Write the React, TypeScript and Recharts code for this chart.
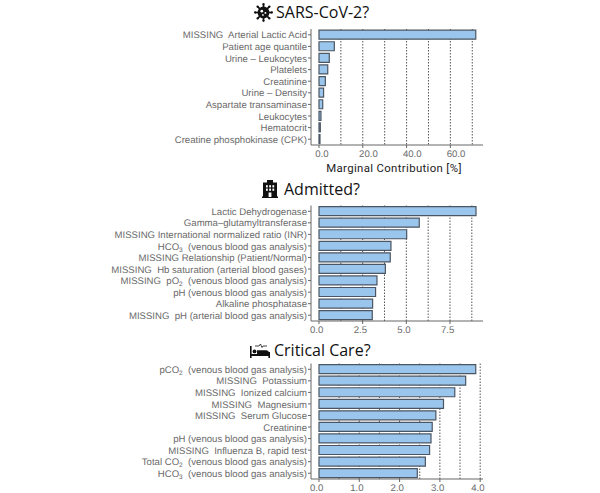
import { BarChart, Bar, XAxis, YAxis, CartesianGrid } from "recharts";

const covidLabels = [
  "MISSING  Arterial Lactic Acid",
  "Patient age quantile",
  "Urine – Leukocytes",
  "Platelets",
  "Creatinine",
  "Urine – Density",
  "Aspartate transaminase",
  "Leukocytes",
  "Hematocrit",
  "Creatine phosphokinase (CPK)",
];
const covidValues = [71.6, 7.0, 4.7, 4.0, 2.9, 2.1, 1.7, 0.9, 0.6, 0.45];
const covidTicks = [0, 20, 40, 60];
const covidGrid = [10, 20, 30, 40, 50, 60, 70];

const admittedLabels = [
  "Lactic Dehydrogenase",
  "Gamma–glutamyltransferase",
  "MISSING International normalized ratio (INR)",
  "HCO₃  (venous blood gas analysis)",
  "MISSING Relationship (Patient/Normal)",
  "MISSING  Hb saturation (arterial blood gases)",
  "MISSING  pO₂  (venous blood gas analysis)",
  "pH (venous blood gas analysis)",
  "Alkaline phosphatase",
  "MISSING  pH (arterial blood gas analysis)",
];
const admittedValues = [8.99, 5.74, 5.02, 4.12, 4.08, 3.8, 3.32, 3.24, 3.07, 3.05];
const admittedTicks = [0, 2.5, 5, 7.5];
const admittedGrid = [1.25, 2.5, 3.75, 5, 6.25, 7.5, 8.75];

const criticalLabels = [
  "pCO₂  (venous blood gas analysis)",
  "MISSING  Potassium",
  "MISSING  Ionized calcium",
  "MISSING  Magnesium",
  "MISSING  Serum Glucose",
  "Creatinine",
  "pH (venous blood gas analysis)",
  "MISSING  Influenza B, rapid test",
  "Total CO₂  (venous blood gas analysis)",
  "HCO₃  (venous blood gas analysis)",
];
const criticalValues = [3.89, 3.64, 3.37, 3.09, 2.9, 2.81, 2.78, 2.745, 2.64, 2.44];
const criticalTicks = [0, 1, 2, 3, 4];
const criticalGrid = [0.5, 1, 1.5, 2, 2.5, 3, 3.5, 4];

const TEXT_GREY = "#6a6a6a";
const LINE_GREY = "#666";
const SANS = "'Liberation Sans', Arial, sans-serif";
const SUBS: Record<string, string> = { "₂": "2", "₃": "3" };

function LabelTick({ x, y, payload }: any) {
  // subscripts are drawn as smaller digits, the rest stays as is
  const parts = String(payload.value).split(/([₂₃])/);
  return (
    <text
      x={x}
      y={y + 3.6}
      textAnchor="end"
      fontSize={9.6}
      fontFamily={SANS}
      fill={TEXT_GREY}
      textRendering="geometricPrecision"
      style={{ whiteSpace: "pre" }}
    >
      {parts.map((p, i) =>
        SUBS[p] ? (
          <tspan key={i} fontSize={6.5} dy={2}>
            {SUBS[p]}
          </tspan>
        ) : (
          <tspan key={i} dy={i > 0 ? -2 : 0}>
            {p}
          </tspan>
        ),
      )}
    </text>
  );
}

function ValueTick({ x, y, payload, shift }: any) {
  return (
    <text
      x={x + shift}
      y={y + 7}
      textAnchor="start"
      fontSize={9.6}
      fontFamily={SANS}
      fill={TEXT_GREY}
      textRendering="geometricPrecision"
    >
      {payload.value.toFixed(1)}
    </text>
  );
}

function Panel({ top, height, plotTop, axisHeight, labels, values, domain, ticks, grid, shift, axisTitle }: any) {
  const rows = labels.map((name: string, i: number) => ({ name, value: values[i] }));
  return (
    <div style={{ position: "absolute", left: 0, top }}>
      <BarChart
        width={600}
        height={height}
        data={rows}
        layout="vertical"
        barCategoryGap="10%"
        margin={{ top: plotTop - top, right: 117, bottom: 0, left: 0 }}
      >
        <CartesianGrid horizontal={false} vertical verticalValues={grid} stroke="#555" strokeDasharray="1.5 1.5" />
        <XAxis
          type="number"
          dataKey="value"
          domain={domain}
          allowDataOverflow
          ticks={ticks}
          interval={0}
          height={axisHeight}
          tickSize={3}
          stroke={LINE_GREY}
          tick={(p: any) => <ValueTick {...p} shift={shift} />}
          label={
            axisTitle
              ? {
                  value: axisTitle,
                  position: "insideBottom",
                  offset: 8,
                  dx: -3,
                  fontSize: 11.4,
                  letterSpacing: 0.35,
                  fontFamily: "Roboto, sans-serif",
                  fill: "#222",
                }
              : undefined
          }
        />
        <YAxis
          type="category"
          dataKey="name"
          width={311}
          interval={0}
          tickSize={3}
          tickMargin={1}
          stroke={LINE_GREY}
          tick={LabelTick}
        />
        <Bar dataKey="value" fill="#9ac5ec" stroke="#4c5662" strokeWidth={1.2} isAnimationActive={false} />
      </BarChart>
    </div>
  );
}

function VirusIcon() {
  const spikes = [0, 45, 90, 135, 180, 225, 270, 315];
  return (
    <svg width={19} height={19} viewBox="-10 -10 20 20">
      {spikes.map((a) => (
        <g key={a} transform={`rotate(${a})`}>
          <rect x={-0.9} y={-9} width={1.8} height={4} fill="#111" />
          <circle cx={0} cy={-8.8} r={1.2} fill="#111" />
        </g>
      ))}
      <circle r={6.2} fill="#111" />
      <circle r={1.4} cx={-1.8} cy={-1.4} fill="#fff" />
      <circle r={1} cx={2} cy={0.4} fill="#fff" />
      <circle r={0.9} cx={-0.6} cy={2.6} fill="#fff" />
    </svg>
  );
}

function HospitalIcon() {
  return (
    <svg width={16} height={18} viewBox="0 0 16 18">
      <rect x={5} y={0} width={6} height={3} fill="#111" />
      <rect x={1} y={2.5} width={14} height={14.5} fill="#111" />
      <rect x={0} y={16.5} width={16} height={1.5} fill="#111" />
      {[4, 7.2, 10.4].flatMap((x) =>
        [5.2, 8.6].map((y) => <rect key={`${x}-${y}`} x={x} y={y} width={1.8} height={2.2} fill="#fff" />),
      )}
      <rect x={6.6} y={12.5} width={2.8} height={4.5} fill="#fff" />
    </svg>
  );
}

function BedIcon() {
  return (
    <svg width={20} height={15} viewBox="0 0 20 15">
      <rect x={0} y={3} width={1.6} height={12} fill="#111" />
      <rect x={18.4} y={9} width={1.6} height={6} fill="#111" />
      <rect x={0} y={11} width={20} height={2} fill="#111" />
      <circle cx={4.5} cy={8.4} r={1.9} fill="#111" />
      <path d="M7 11 V7.2 H16 Q19 7.2 19.5 11 Z" fill="#111" />
      <path d="M5 3 H9 L10.5 1 L12 4.5 L13 3 H17" fill="none" stroke="#111" strokeWidth={0.8} />
    </svg>
  );
}

function Title({ top, left, gap, icon, text }: any) {
  return (
    <div
      style={{
        position: "absolute",
        left,
        top,
        display: "flex",
        alignItems: "center",
        gap,
        fontFamily: "'Open Sans', sans-serif",
        fontSize: 16,
        fontWeight: 500,
        lineHeight: "24px",
        color: "#111",
        whiteSpace: "nowrap",
      }}
    >
      {icon}
      <span>{text}</span>
    </div>
  );
}

export default function App() {
  return (
    <div style={{ position: "absolute", left: 0, top: 0, width: 600, height: 493, overflow: "hidden", background: "#fff" }}>
      <Panel
        top={0}
        height={180}
        plotTop={29}
        axisHeight={35}
        labels={covidLabels}
        values={covidValues}
        domain={[-3.65, 74.9]}
        ticks={covidTicks}
        grid={covidGrid}
        shift={-3.7}
        axisTitle="Marginal Contribution [%]"
      />
      <Panel
        top={175}
        height={165}
        plotTop={205.5}
        axisHeight={19}
        labels={admittedLabels}
        values={admittedValues}
        domain={[-0.458, 9.39]}
        ticks={admittedTicks}
        grid={admittedGrid}
        shift={-9}
      />
      <Panel
        top={335}
        height={158}
        plotTop={363.5}
        axisHeight={14}
        labels={criticalLabels}
        values={criticalValues}
        domain={[-0.198, 4.07]}
        ticks={criticalTicks}
        grid={criticalGrid}
        shift={-9}
      />
      <Title top={0} left={254} gap={3} icon={<VirusIcon />} text="SARS-CoV-2?" />
      <Title top={177} left={262} gap={6} icon={<HospitalIcon />} text="Admitted?" />
      <Title top={338} left={250} gap={4} icon={<BedIcon />} text="Critical Care?" />
    </div>
  );
}
